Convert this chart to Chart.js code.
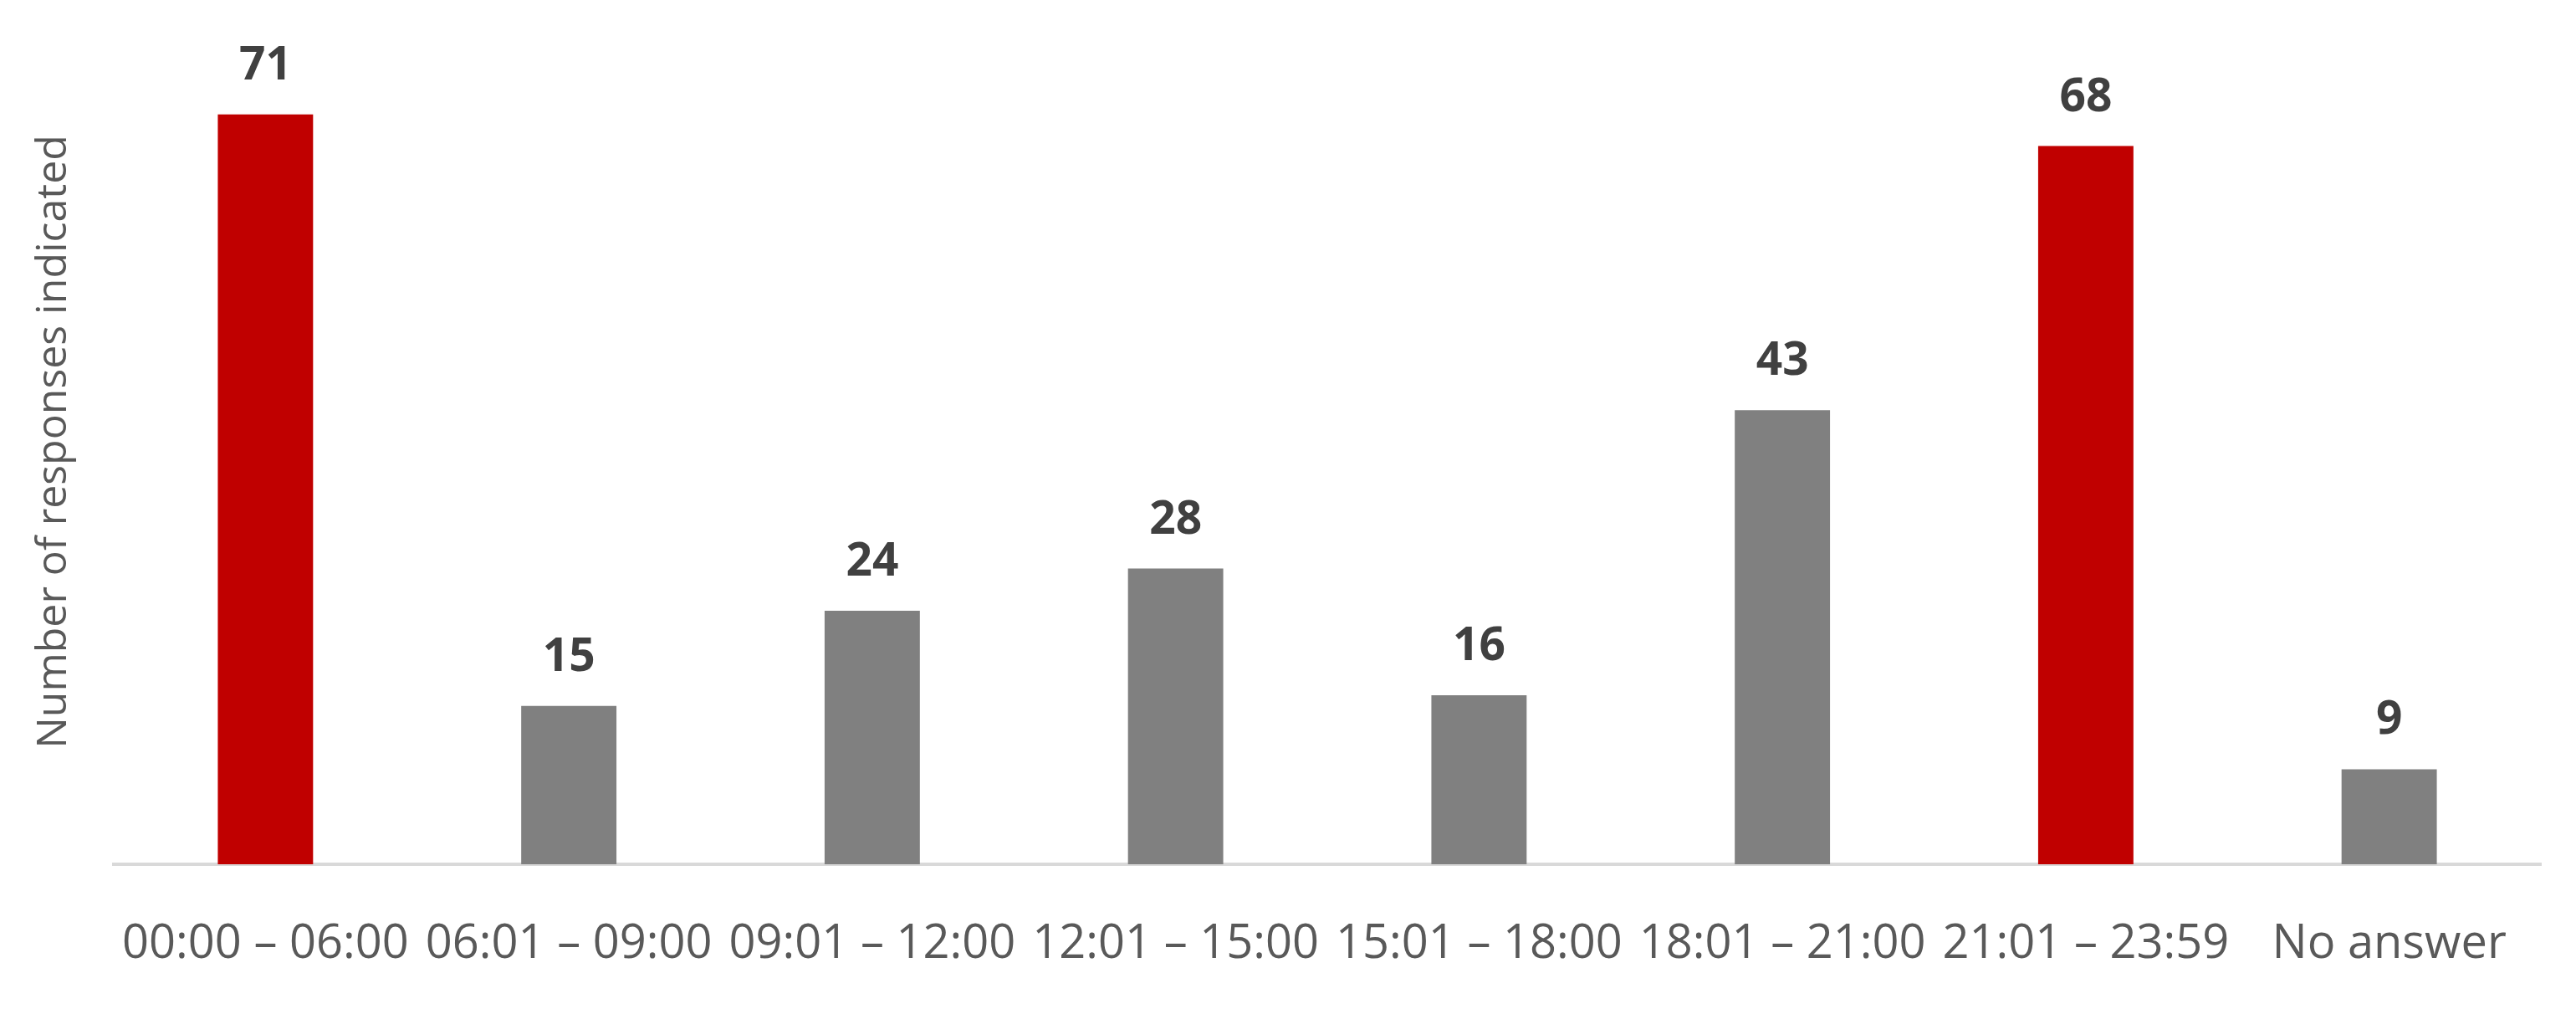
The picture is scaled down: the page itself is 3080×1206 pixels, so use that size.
<!DOCTYPE html>
<html>
<head>
<meta charset="utf-8">
<script src="https://cdn.jsdelivr.net/npm/chart.js@4"></script>
<style>
  html, body { margin: 0; padding: 0; background: #ffffff; }
  #wrap { width: 3080px; height: 1206px; }
</style>
</head>
<body>
<div id="wrap"><canvas id="myChart" width="3080" height="1206"></canvas></div>
<script>
const categories = ['00:00 – 06:00', '06:01 – 09:00', '09:01 – 12:00', '12:01 – 15:00',
    '15:01 – 18:00', '18:01 – 21:00', '21:01 – 23:59', 'No answer'];
const responses = [71, 15, 24, 28, 16, 43, 68, 9];
const highlighted = [true, false, false, false, false, false, true, false];
const yTitle = 'Number of responses indicated';

const RED = '#C00000';
const GREY = '#808080';

// draws the count above each bar
const valueLabels = {
    id: 'valueLabels',
    afterDatasetsDraw(chart) {
        const ctx = chart.ctx;
        const meta = chart.getDatasetMeta(0);
        ctx.save();
        ctx.font = "bold 55px 'Open Sans', sans-serif";
        ctx.fillStyle = '#404040';
        ctx.textAlign = 'center';
        ctx.textBaseline = 'alphabetic';
        meta.data.forEach(function (bar, i) {
            ctx.fillText(String(responses[i]), bar.x, bar.y - 42);
        });
        ctx.restore();
    }
};

document.addEventListener("DOMContentLoaded", function () {
    Chart.defaults.font.family = "'Open Sans', sans-serif";
    const ctx = document.getElementById('myChart').getContext('2d');

    new Chart(ctx, {
        type: 'bar',
        data: {
            labels: categories,
            datasets: [{
                data: responses,
                backgroundColor: highlighted.map(h => h ? RED : GREY),
                borderWidth: 0,
                barPercentage: 0.314,
                categoryPercentage: 1
            }]
        },
        options: {
            responsive: false,
            animation: false,
            layout: { padding: { top: 23, right: 42, left: 0, bottom: 0 } },
            plugins: {
                legend: { display: false },
                tooltip: { enabled: false }
            },
            scales: {
                x: {
                    grid: { display: false, drawTicks: false },
                    border: { display: true, color: '#D9D9D9', width: 4 },
                    ticks: {
                        autoSkip: false,
                        maxRotation: 0,
                        color: '#595959',
                        padding: 62,
                        font: { size: 56 }
                    },
                    afterFit: s => { s.height = 173; }
                },
                y: {
                    min: 0,
                    max: 80,
                    grid: { display: false, drawTicks: false },
                    border: { display: false },
                    ticks: { display: false },
                    title: {
                        display: true,
                        text: yTitle,
                        color: '#595959',
                        font: { size: 50, lineHeight: 1.2 },
                        padding: { top: 35, bottom: 0 }
                    },
                    afterFit: s => { s.width = 136; }
                }
            }
        },
        plugins: [valueLabels]
    });
});
</script>
</body>
</html>
